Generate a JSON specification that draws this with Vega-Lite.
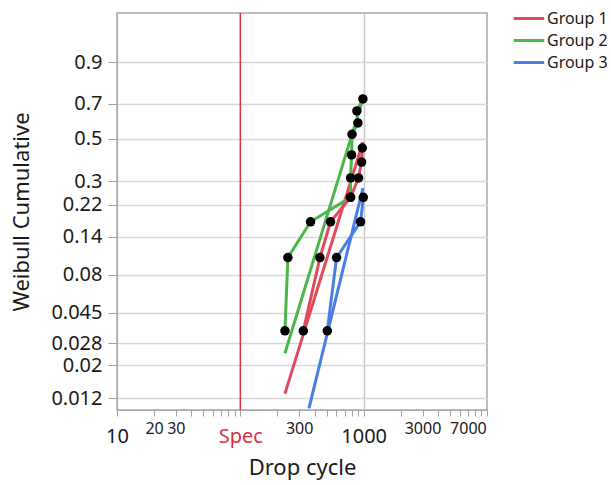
{
  "$schema": "https://vega.github.io/schema/vega-lite/v6.json",
  "autosize": "none",
  "width": 370,
  "height": 397,
  "padding": {"left": 117, "top": 13, "right": 124, "bottom": 75},
  "background": "white",
  "config": {
    "font": "Noto Sans",
    "view": {"stroke": "#A8A8A8", "strokeWidth": 1.5},
    "axis": {"labelOverlap": false, "labelBound": false},
    "axisY": {"labelOverlap": false},
    "axisQuantitative": {"labelOverlap": false}
  },
  "datasets": {
    "pts": [
      {"group": "Group 2", "cycle": 230, "p": 0.034},
      {"group": "Group 2", "cycle": 243, "p": 0.103},
      {"group": "Group 2", "cycle": 371, "p": 0.173},
      {"group": "Group 2", "cycle": 783, "p": 0.243},
      {"group": "Group 2", "cycle": 783, "p": 0.314},
      {"group": "Group 2", "cycle": 798, "p": 0.417},
      {"group": "Group 2", "cycle": 805, "p": 0.525},
      {"group": "Group 2", "cycle": 898, "p": 0.589},
      {"group": "Group 2", "cycle": 881, "p": 0.658},
      {"group": "Group 2", "cycle": 986, "p": 0.726},
      {"group": "Group 1", "cycle": 324, "p": 0.034},
      {"group": "Group 1", "cycle": 442, "p": 0.103},
      {"group": "Group 1", "cycle": 539, "p": 0.173},
      {"group": "Group 1", "cycle": 783, "p": 0.243},
      {"group": "Group 1", "cycle": 909, "p": 0.314},
      {"group": "Group 1", "cycle": 962, "p": 0.383},
      {"group": "Group 1", "cycle": 975, "p": 0.452},
      {"group": "Group 3", "cycle": 507, "p": 0.034},
      {"group": "Group 3", "cycle": 603, "p": 0.103},
      {"group": "Group 3", "cycle": 944, "p": 0.173},
      {"group": "Group 3", "cycle": 993, "p": 0.243}
    ],
    "fit": [
      {"group": "Group 1", "cycle": 230, "p": 0.0129},
      {"group": "Group 1", "cycle": 986, "p": 0.483},
      {"group": "Group 2", "cycle": 230, "p": 0.0241},
      {"group": "Group 2", "cycle": 986, "p": 0.726},
      {"group": "Group 3", "cycle": 360, "p": 0.01027},
      {"group": "Group 3", "cycle": 986, "p": 0.275}
    ],
    "spec": [{"label": "Spec", "cycle": 100}]
  },
  "encoding": {
    "x": {
      "field": "cycle",
      "type": "quantitative",
      "scale": {"type": "log", "domain": [10, 10000], "nice": false},
      "title": "Drop cycle",
      "axis": {
        "values": [10, 20, 30, 40, 50, 60, 70, 80, 90, 100, 200, 300, 400, 500, 600, 700, 800, 900, 1000, 2000, 3000, 4000, 5000, 6000, 7000, 8000, 9000, 10000],
        "labelExpr": "datum.value == 100 ? 'Spec' : (indexof([10, 20, 30, 300, 1000, 3000, 7000], datum.value) >= 0 ? toString(datum.value) : '')",
        "labelOverlap": false,
        "labelFlush": false,
        "labelBound": false,
        "labelFontSize": {"condition": {"test": "indexof([10, 100, 1000], datum.value) >= 0", "value": 20}, "value": 16},
        "labelPadding": {"condition": {"test": "indexof([10, 100, 1000], datum.value) >= 0", "value": 10}, "value": 4},
        "labelColor": {"condition": {"test": "datum.value == 100", "value": "#D9303F"}, "value": "#1a1a1a"},
        "tickSize": 6,
        "tickColor": "#A0A0A0",
        "domainColor": "#A8A8A8",
        "grid": true,
        "gridColor": "#C8C8C8",
        "gridWidth": 1.5,
        "gridOpacity": {"condition": {"test": "datum.value == 1000", "value": 1}, "value": 0},
        "titleFontSize": 22,
        "titleFontWeight": "normal",
        "titleColor": "#1a1a1a",
        "titlePadding": 11
      }
    }
  },
  "layer": [
    {
      "data": {"name": "spec"},
      "mark": {"type": "rule", "color": "#D9303F", "strokeWidth": 1.5},
      "encoding": {}
    },
    {
      "encoding": {
        "y": {
          "field": "w",
          "type": "quantitative",
          "scale": {"domain": [-4.6, 1.6], "nice": false, "zero": false},
          "title": "Weibull Cumulative",
          "axis": {
            "values": [-4.41667, -3.90193, -3.56134, -3.07812, -2.48433, -1.8917, -1.39246, -1.03093, -0.366513, 0.185627, 0.834032],
            "labelExpr": "format(1 - exp(-exp(datum.value)), '.2~r')",
            "labelOverlap": false,
            "labelFontSize": 20,
            "labelColor": "#1a1a1a",
            "labelPadding": 6,
            "tickSize": 9,
            "tickColor": "#A0A0A0",
            "domainColor": "#A8A8A8",
            "gridColor": "#D8D8D8",
            "gridWidth": 1.5,
            "titleFontSize": 22,
            "titleFontWeight": "normal",
            "titleColor": "#1a1a1a",
            "titlePadding": 17
          }
        },
        "color": {
          "field": "group",
          "type": "nominal",
          "scale": {"domain": ["Group 1", "Group 2", "Group 3"], "range": ["#E24A5C", "#4BB64A", "#4A7DE6"]},
          "legend": {
            "orient": "none",
            "legendX": 400,
            "legendY": -6.5,
            "title": null,
            "padding": 0,
            "symbolType": "M-1.45,0H1.45",
            "symbolSize": 441,
            "symbolStrokeWidth": 3,
            "labelFontSize": 16,
            "labelColor": "#1a1a1a",
            "labelOffset": 6,
            "rowPadding": 2
          }
        }
      },
      "layer": [
        {
          "data": {"name": "fit"},
          "transform": [{"calculate": "log(-log(1 - datum.p))", "as": "w"}],
          "mark": {"type": "line", "strokeWidth": 3},
          "encoding": {"order": {"field": "p", "type": "quantitative"}}
        },
        {
          "data": {"name": "pts"},
          "transform": [{"calculate": "log(-log(1 - datum.p))", "as": "w"}],
          "mark": {"type": "line", "strokeWidth": 3},
          "encoding": {"order": {"field": "p", "type": "quantitative"}}
        },
        {
          "data": {"name": "pts"},
          "transform": [{"calculate": "log(-log(1 - datum.p))", "as": "w"}],
          "mark": {"type": "circle", "color": "black", "opacity": 1, "size": 90},
          "encoding": {"color": {"value": "black"}}
        }
      ]
    }
  ]
}
